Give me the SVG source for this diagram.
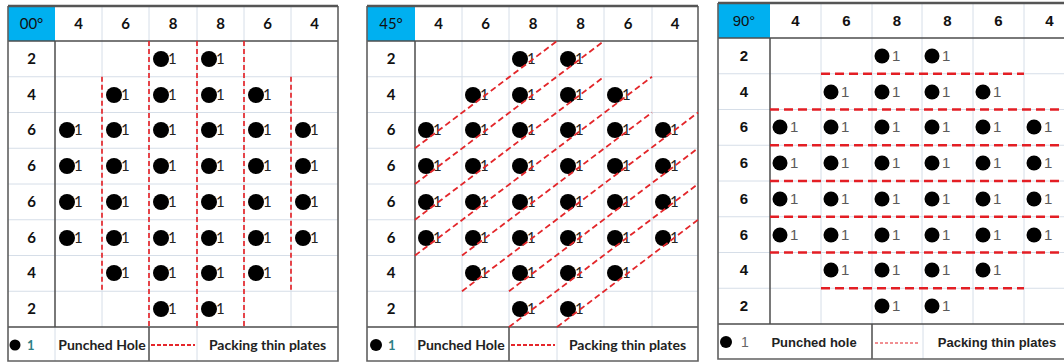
<svg xmlns="http://www.w3.org/2000/svg" width="1064" height="364" viewBox="0 0 1064 364">
<style>
.bg{fill:#fff}
.gl{stroke:#d6dee8;stroke-width:1;fill:none}
.gd{stroke:#4d4d4d;stroke-width:1.5;fill:none}
.bd{stroke:#606060;stroke-width:1.6;fill:none}
.bt{stroke:#555;stroke-width:2.6;fill:none}
.blue{fill:#00b0f0}
.h{font-family:Lato,"Open Sans",sans-serif;font-weight:700;font-size:15px;text-anchor:middle;fill:#111}
.h3{font-family:"Liberation Sans",Arial,sans-serif;font-weight:700;font-size:15px;text-anchor:middle;fill:#111}
.deg{font-weight:400}
.hole circle{fill:#000}
.p12 .hole text{font-family:Lato,"Open Sans",sans-serif;font-size:15px;fill:#222}
.p3 .hole text{font-family:"Liberation Sans",Arial,sans-serif;font-size:15px;fill:#5a5a5a}
.lg{font-family:Lato,"Open Sans",sans-serif;font-weight:700;font-size:14px;text-anchor:middle;fill:#222}
.lg3{font-family:"Liberation Sans",Arial,sans-serif;font-weight:700;font-size:13px;text-anchor:middle;fill:#222}
.d1{stroke:#e5262b;stroke-width:1.7;stroke-dasharray:5 3;fill:none}
.d2{stroke:#e3262a;stroke-width:1.8;stroke-dasharray:6 3.5;fill:none}
.d3{stroke:#e31e24;stroke-width:2.6;stroke-dasharray:9 5;fill:none}
.dl{stroke:#e5262b;stroke-width:2;stroke-dasharray:4 2;fill:none}
.dl3{stroke:#e31e24;stroke-width:1;stroke-dasharray:3 2;fill:none}
</style>
<rect class="bg" x="0" y="0" width="1064" height="364"/>

<!-- ================= PANEL 1 ================= -->
<g id="panel1" class="p12">
  <rect class="blue" x="8" y="6" width="47" height="35"/>
  <g id="p1-grid">
    <path class="gl" d="M102,6V327M149,6V327M197,6V361M244,6V327M291,6V327M55,327V361"/>
    <path class="gl" d="M8,76.75H338M8,112.5H338M8,148.25H338M8,184H338M8,219.75H338M8,255.5H338M8,291.25H338"/>
    <path class="gd" d="M8,41H338M55,41V327M8,327H338M149,327V361"/>
    <path class="bd" d="M8,6V361H338V6"/>
    <path class="bt" d="M8,6H338"/>
  </g>
  <g id="p1-header">
    <text class="h deg" x="31.5" y="29">00°</text>
    <text class="h" x="78.5" y="29">4</text>
    <text class="h" x="125.5" y="29">6</text>
    <text class="h" x="173" y="29">8</text>
    <text class="h" x="220.5" y="29">8</text>
    <text class="h" x="267.5" y="29">6</text>
    <text class="h" x="314.5" y="29">4</text>
  </g>
  <g id="p1-rowlabels">
    <text class="h" x="31.5" y="64">2</text>
    <text class="h" x="31.5" y="100">4</text>
    <text class="h" x="31.5" y="135">6</text>
    <text class="h" x="31.5" y="171">6</text>
    <text class="h" x="31.5" y="207">6</text>
    <text class="h" x="31.5" y="243">6</text>
    <text class="h" x="31.5" y="278">4</text>
    <text class="h" x="31.5" y="314">2</text>
  </g>
  <g id="p1-holes">
    <g id="p1-r0c2" class="hole" transform="translate(161,59)"><circle r="8"/><text x="7" y="5">1</text></g>
    <g id="p1-r0c3" class="hole" transform="translate(209,59)"><circle r="8"/><text x="7" y="5">1</text></g>
    <g id="p1-r1c1" class="hole" transform="translate(114,95)"><circle r="8"/><text x="7" y="5">1</text></g>
    <g id="p1-r1c2" class="hole" transform="translate(161,95)"><circle r="8"/><text x="7" y="5">1</text></g>
    <g id="p1-r1c3" class="hole" transform="translate(209,95)"><circle r="8"/><text x="7" y="5">1</text></g>
    <g id="p1-r1c4" class="hole" transform="translate(256,95)"><circle r="8"/><text x="7" y="5">1</text></g>
    <g id="p1-r2c0" class="hole" transform="translate(67,130)"><circle r="8"/><text x="7" y="5">1</text></g>
    <g id="p1-r2c1" class="hole" transform="translate(114,130)"><circle r="8"/><text x="7" y="5">1</text></g>
    <g id="p1-r2c2" class="hole" transform="translate(161,130)"><circle r="8"/><text x="7" y="5">1</text></g>
    <g id="p1-r2c3" class="hole" transform="translate(209,130)"><circle r="8"/><text x="7" y="5">1</text></g>
    <g id="p1-r2c4" class="hole" transform="translate(256,130)"><circle r="8"/><text x="7" y="5">1</text></g>
    <g id="p1-r2c5" class="hole" transform="translate(303,130)"><circle r="8"/><text x="7" y="5">1</text></g>
    <g id="p1-r3c0" class="hole" transform="translate(67,166)"><circle r="8"/><text x="7" y="5">1</text></g>
    <g id="p1-r3c1" class="hole" transform="translate(114,166)"><circle r="8"/><text x="7" y="5">1</text></g>
    <g id="p1-r3c2" class="hole" transform="translate(161,166)"><circle r="8"/><text x="7" y="5">1</text></g>
    <g id="p1-r3c3" class="hole" transform="translate(209,166)"><circle r="8"/><text x="7" y="5">1</text></g>
    <g id="p1-r3c4" class="hole" transform="translate(256,166)"><circle r="8"/><text x="7" y="5">1</text></g>
    <g id="p1-r3c5" class="hole" transform="translate(303,166)"><circle r="8"/><text x="7" y="5">1</text></g>
    <g id="p1-r4c0" class="hole" transform="translate(67,202)"><circle r="8"/><text x="7" y="5">1</text></g>
    <g id="p1-r4c1" class="hole" transform="translate(114,202)"><circle r="8"/><text x="7" y="5">1</text></g>
    <g id="p1-r4c2" class="hole" transform="translate(161,202)"><circle r="8"/><text x="7" y="5">1</text></g>
    <g id="p1-r4c3" class="hole" transform="translate(209,202)"><circle r="8"/><text x="7" y="5">1</text></g>
    <g id="p1-r4c4" class="hole" transform="translate(256,202)"><circle r="8"/><text x="7" y="5">1</text></g>
    <g id="p1-r4c5" class="hole" transform="translate(303,202)"><circle r="8"/><text x="7" y="5">1</text></g>
    <g id="p1-r5c0" class="hole" transform="translate(67,238)"><circle r="8"/><text x="7" y="5">1</text></g>
    <g id="p1-r5c1" class="hole" transform="translate(114,238)"><circle r="8"/><text x="7" y="5">1</text></g>
    <g id="p1-r5c2" class="hole" transform="translate(161,238)"><circle r="8"/><text x="7" y="5">1</text></g>
    <g id="p1-r5c3" class="hole" transform="translate(209,238)"><circle r="8"/><text x="7" y="5">1</text></g>
    <g id="p1-r5c4" class="hole" transform="translate(256,238)"><circle r="8"/><text x="7" y="5">1</text></g>
    <g id="p1-r5c5" class="hole" transform="translate(303,238)"><circle r="8"/><text x="7" y="5">1</text></g>
    <g id="p1-r6c1" class="hole" transform="translate(114,273)"><circle r="8"/><text x="7" y="5">1</text></g>
    <g id="p1-r6c2" class="hole" transform="translate(161,273)"><circle r="8"/><text x="7" y="5">1</text></g>
    <g id="p1-r6c3" class="hole" transform="translate(209,273)"><circle r="8"/><text x="7" y="5">1</text></g>
    <g id="p1-r6c4" class="hole" transform="translate(256,273)"><circle r="8"/><text x="7" y="5">1</text></g>
    <g id="p1-r7c2" class="hole" transform="translate(161,309)"><circle r="8"/><text x="7" y="5">1</text></g>
    <g id="p1-r7c3" class="hole" transform="translate(209,309)"><circle r="8"/><text x="7" y="5">1</text></g>
  </g>
  <g id="p1-legend">
    <circle cx="15" cy="345" r="5.5" fill="#000"/>
    <text x="27" y="350" font-family="Lato,'Open Sans',sans-serif" font-size="13" font-weight="700" fill="#2e7f86">1</text>
    <text class="lg" x="102" y="350">Punched Hole</text>
    <line class="dl" x1="151" y1="345" x2="195" y2="345"/>
    <text class="lg" x="267.5" y="350">Packing thin plates</text>
  </g>
</g>

<!-- ================= PANEL 2 ================= -->
<g id="panel2" class="p12">
  <rect class="blue" x="367" y="6" width="48" height="35"/>
  <g id="p2-grid">
    <path class="gl" d="M462,6V327M509,6V327M557,6V361M604,6V327M652,6V327M415,327V361"/>
    <path class="gl" d="M367,76.75H698M367,112.5H698M367,148.25H698M367,184H698M367,219.75H698M367,255.5H698M367,291.25H698"/>
    <path class="gd" d="M367,41H698M415,41V327M367,327H698M509,327V361"/>
    <path class="bd" d="M367,6V361H698V6"/>
    <path class="bt" d="M367,6H698"/>
  </g>
  <g id="p2-header">
    <text class="h deg" x="391" y="29">45°</text>
    <text class="h" x="438.5" y="29">4</text>
    <text class="h" x="485.5" y="29">6</text>
    <text class="h" x="533" y="29">8</text>
    <text class="h" x="580.5" y="29">8</text>
    <text class="h" x="628" y="29">6</text>
    <text class="h" x="675" y="29">4</text>
  </g>
  <g id="p2-rowlabels">
    <text class="h" x="391" y="64">2</text>
    <text class="h" x="391" y="100">4</text>
    <text class="h" x="391" y="135">6</text>
    <text class="h" x="391" y="171">6</text>
    <text class="h" x="391" y="207">6</text>
    <text class="h" x="391" y="243">6</text>
    <text class="h" x="391" y="278">4</text>
    <text class="h" x="391" y="314">2</text>
  </g>
  <g id="p2-holes">
    <g id="p2-r0c2" class="hole" transform="translate(520,59)"><circle r="8"/><text x="7" y="5">1</text></g>
    <g id="p2-r0c3" class="hole" transform="translate(568,59)"><circle r="8"/><text x="7" y="5">1</text></g>
    <g id="p2-r1c1" class="hole" transform="translate(473,95)"><circle r="8"/><text x="7" y="5">1</text></g>
    <g id="p2-r1c2" class="hole" transform="translate(520,95)"><circle r="8"/><text x="7" y="5">1</text></g>
    <g id="p2-r1c3" class="hole" transform="translate(568,95)"><circle r="8"/><text x="7" y="5">1</text></g>
    <g id="p2-r1c4" class="hole" transform="translate(615,95)"><circle r="8"/><text x="7" y="5">1</text></g>
    <g id="p2-r2c0" class="hole" transform="translate(426,130)"><circle r="8"/><text x="7" y="5">1</text></g>
    <g id="p2-r2c1" class="hole" transform="translate(473,130)"><circle r="8"/><text x="7" y="5">1</text></g>
    <g id="p2-r2c2" class="hole" transform="translate(520,130)"><circle r="8"/><text x="7" y="5">1</text></g>
    <g id="p2-r2c3" class="hole" transform="translate(568,130)"><circle r="8"/><text x="7" y="5">1</text></g>
    <g id="p2-r2c4" class="hole" transform="translate(615,130)"><circle r="8"/><text x="7" y="5">1</text></g>
    <g id="p2-r2c5" class="hole" transform="translate(663,130)"><circle r="8"/><text x="7" y="5">1</text></g>
    <g id="p2-r3c0" class="hole" transform="translate(426,166)"><circle r="8"/><text x="7" y="5">1</text></g>
    <g id="p2-r3c1" class="hole" transform="translate(473,166)"><circle r="8"/><text x="7" y="5">1</text></g>
    <g id="p2-r3c2" class="hole" transform="translate(520,166)"><circle r="8"/><text x="7" y="5">1</text></g>
    <g id="p2-r3c3" class="hole" transform="translate(568,166)"><circle r="8"/><text x="7" y="5">1</text></g>
    <g id="p2-r3c4" class="hole" transform="translate(615,166)"><circle r="8"/><text x="7" y="5">1</text></g>
    <g id="p2-r3c5" class="hole" transform="translate(663,166)"><circle r="8"/><text x="7" y="5">1</text></g>
    <g id="p2-r4c0" class="hole" transform="translate(426,202)"><circle r="8"/><text x="7" y="5">1</text></g>
    <g id="p2-r4c1" class="hole" transform="translate(473,202)"><circle r="8"/><text x="7" y="5">1</text></g>
    <g id="p2-r4c2" class="hole" transform="translate(520,202)"><circle r="8"/><text x="7" y="5">1</text></g>
    <g id="p2-r4c3" class="hole" transform="translate(568,202)"><circle r="8"/><text x="7" y="5">1</text></g>
    <g id="p2-r4c4" class="hole" transform="translate(615,202)"><circle r="8"/><text x="7" y="5">1</text></g>
    <g id="p2-r4c5" class="hole" transform="translate(663,202)"><circle r="8"/><text x="7" y="5">1</text></g>
    <g id="p2-r5c0" class="hole" transform="translate(426,238)"><circle r="8"/><text x="7" y="5">1</text></g>
    <g id="p2-r5c1" class="hole" transform="translate(473,238)"><circle r="8"/><text x="7" y="5">1</text></g>
    <g id="p2-r5c2" class="hole" transform="translate(520,238)"><circle r="8"/><text x="7" y="5">1</text></g>
    <g id="p2-r5c3" class="hole" transform="translate(568,238)"><circle r="8"/><text x="7" y="5">1</text></g>
    <g id="p2-r5c4" class="hole" transform="translate(615,238)"><circle r="8"/><text x="7" y="5">1</text></g>
    <g id="p2-r5c5" class="hole" transform="translate(663,238)"><circle r="8"/><text x="7" y="5">1</text></g>
    <g id="p2-r6c1" class="hole" transform="translate(473,273)"><circle r="8"/><text x="7" y="5">1</text></g>
    <g id="p2-r6c2" class="hole" transform="translate(520,273)"><circle r="8"/><text x="7" y="5">1</text></g>
    <g id="p2-r6c3" class="hole" transform="translate(568,273)"><circle r="8"/><text x="7" y="5">1</text></g>
    <g id="p2-r6c4" class="hole" transform="translate(615,273)"><circle r="8"/><text x="7" y="5">1</text></g>
    <g id="p2-r7c2" class="hole" transform="translate(520,309)"><circle r="8"/><text x="7" y="5">1</text></g>
    <g id="p2-r7c3" class="hole" transform="translate(568,309)"><circle r="8"/><text x="7" y="5">1</text></g>
  </g>
  <g id="p2-legend">
    <circle cx="376" cy="345" r="6" fill="#000"/>
    <text x="388" y="350" font-family="Lato,'Open Sans',sans-serif" font-size="13" font-weight="700" fill="#2e7f86">1</text>
    <text class="lg" x="461" y="350">Punched Hole</text>
    <line class="dl" x1="511" y1="345" x2="555" y2="345"/>
    <text class="lg" x="627.5" y="350">Packing thin plates</text>
  </g>
</g>

<!-- ================= PANEL 3 ================= -->
<g id="panel3" class="p3">
  <rect class="blue" x="718" y="3" width="52" height="35"/>
  <g id="p3-grid">
    <path class="gl" d="M821,3V324M872,3V324M922,3V324M973,3V324M1024,3V324M923,324V359"/>
    <path class="gl" d="M718,73.75H1064M718,109.5H1064M718,145.25H1064M718,181H1064M718,216.75H1064M718,252.5H1064M718,288.25H1064"/>
    <path class="gd" d="M718,38H1064M770,38V324M718,324H1064M872,324V359"/>
    <path class="bd" d="M718,3V359H1064"/>
    <path class="bt" d="M718,3H1064"/>
  </g>
  <g id="p3-header">
    <text class="h3 deg" x="744" y="26">90°</text>
    <text class="h3" x="795.5" y="26">4</text>
    <text class="h3" x="846.5" y="26">6</text>
    <text class="h3" x="897" y="26">8</text>
    <text class="h3" x="947.5" y="26">8</text>
    <text class="h3" x="998.5" y="26">6</text>
    <text class="h3" x="1049.5" y="26">4</text>
  </g>
  <g id="p3-rowlabels">
    <text class="h3" x="744" y="61">2</text>
    <text class="h3" x="744" y="97">4</text>
    <text class="h3" x="744" y="132">6</text>
    <text class="h3" x="744" y="168">6</text>
    <text class="h3" x="744" y="204">6</text>
    <text class="h3" x="744" y="240">6</text>
    <text class="h3" x="744" y="275">4</text>
    <text class="h3" x="744" y="311">2</text>
  </g>
  <g id="p3-holes">
    <g id="p3-r0c2" class="hole" transform="translate(882,56)"><circle r="7.5"/><text x="10" y="5">1</text></g>
    <g id="p3-r0c3" class="hole" transform="translate(932,56)"><circle r="7.5"/><text x="10" y="5">1</text></g>
    <g id="p3-r1c1" class="hole" transform="translate(831,92)"><circle r="7.5"/><text x="10" y="5">1</text></g>
    <g id="p3-r1c2" class="hole" transform="translate(882,92)"><circle r="7.5"/><text x="10" y="5">1</text></g>
    <g id="p3-r1c3" class="hole" transform="translate(932,92)"><circle r="7.5"/><text x="10" y="5">1</text></g>
    <g id="p3-r1c4" class="hole" transform="translate(983,92)"><circle r="7.5"/><text x="10" y="5">1</text></g>
    <g id="p3-r2c0" class="hole" transform="translate(780,127)"><circle r="7.5"/><text x="10" y="5">1</text></g>
    <g id="p3-r2c1" class="hole" transform="translate(831,127)"><circle r="7.5"/><text x="10" y="5">1</text></g>
    <g id="p3-r2c2" class="hole" transform="translate(882,127)"><circle r="7.5"/><text x="10" y="5">1</text></g>
    <g id="p3-r2c3" class="hole" transform="translate(932,127)"><circle r="7.5"/><text x="10" y="5">1</text></g>
    <g id="p3-r2c4" class="hole" transform="translate(983,127)"><circle r="7.5"/><text x="10" y="5">1</text></g>
    <g id="p3-r2c5" class="hole" transform="translate(1034,127)"><circle r="7.5"/><text x="10" y="5">1</text></g>
    <g id="p3-r3c0" class="hole" transform="translate(780,163)"><circle r="7.5"/><text x="10" y="5">1</text></g>
    <g id="p3-r3c1" class="hole" transform="translate(831,163)"><circle r="7.5"/><text x="10" y="5">1</text></g>
    <g id="p3-r3c2" class="hole" transform="translate(882,163)"><circle r="7.5"/><text x="10" y="5">1</text></g>
    <g id="p3-r3c3" class="hole" transform="translate(932,163)"><circle r="7.5"/><text x="10" y="5">1</text></g>
    <g id="p3-r3c4" class="hole" transform="translate(983,163)"><circle r="7.5"/><text x="10" y="5">1</text></g>
    <g id="p3-r3c5" class="hole" transform="translate(1034,163)"><circle r="7.5"/><text x="10" y="5">1</text></g>
    <g id="p3-r4c0" class="hole" transform="translate(780,199)"><circle r="7.5"/><text x="10" y="5">1</text></g>
    <g id="p3-r4c1" class="hole" transform="translate(831,199)"><circle r="7.5"/><text x="10" y="5">1</text></g>
    <g id="p3-r4c2" class="hole" transform="translate(882,199)"><circle r="7.5"/><text x="10" y="5">1</text></g>
    <g id="p3-r4c3" class="hole" transform="translate(932,199)"><circle r="7.5"/><text x="10" y="5">1</text></g>
    <g id="p3-r4c4" class="hole" transform="translate(983,199)"><circle r="7.5"/><text x="10" y="5">1</text></g>
    <g id="p3-r4c5" class="hole" transform="translate(1034,199)"><circle r="7.5"/><text x="10" y="5">1</text></g>
    <g id="p3-r5c0" class="hole" transform="translate(780,235)"><circle r="7.5"/><text x="10" y="5">1</text></g>
    <g id="p3-r5c1" class="hole" transform="translate(831,235)"><circle r="7.5"/><text x="10" y="5">1</text></g>
    <g id="p3-r5c2" class="hole" transform="translate(882,235)"><circle r="7.5"/><text x="10" y="5">1</text></g>
    <g id="p3-r5c3" class="hole" transform="translate(932,235)"><circle r="7.5"/><text x="10" y="5">1</text></g>
    <g id="p3-r5c4" class="hole" transform="translate(983,235)"><circle r="7.5"/><text x="10" y="5">1</text></g>
    <g id="p3-r5c5" class="hole" transform="translate(1034,235)"><circle r="7.5"/><text x="10" y="5">1</text></g>
    <g id="p3-r6c1" class="hole" transform="translate(831,270)"><circle r="7.5"/><text x="10" y="5">1</text></g>
    <g id="p3-r6c2" class="hole" transform="translate(882,270)"><circle r="7.5"/><text x="10" y="5">1</text></g>
    <g id="p3-r6c3" class="hole" transform="translate(932,270)"><circle r="7.5"/><text x="10" y="5">1</text></g>
    <g id="p3-r6c4" class="hole" transform="translate(983,270)"><circle r="7.5"/><text x="10" y="5">1</text></g>
    <g id="p3-r7c2" class="hole" transform="translate(882,306)"><circle r="7.5"/><text x="10" y="5">1</text></g>
    <g id="p3-r7c3" class="hole" transform="translate(932,306)"><circle r="7.5"/><text x="10" y="5">1</text></g>
  </g>
  <g id="p3-legend">
    <circle cx="726" cy="342" r="6" fill="#000"/>
    <text x="741" y="347" font-family="'Liberation Sans',Arial,sans-serif" font-size="14" fill="#666">1</text>
    <text class="lg3" x="814" y="347">Punched hole</text>
    <line class="dl3" x1="875" y1="343" x2="919" y2="343"/>
    <text class="lg3" x="997" y="347">Packing thin plates</text>
  </g>
</g>

<!-- ================= CONNECTORS (packing plates) ================= -->
<g id="connectors">
  <g id="p1-plates">
    <line class="d1" x1="102" y1="76.75" x2="102" y2="291.25"/>
    <line class="d1" x1="149" y1="41" x2="149" y2="327"/>
    <line class="d1" x1="197" y1="41" x2="197" y2="327"/>
    <line class="d1" x1="244" y1="41" x2="244" y2="327"/>
    <line class="d1" x1="291" y1="76.75" x2="291" y2="291.25"/>
  </g>
  <g id="p2-plates">
    <line class="d2" x1="415" y1="148.25" x2="557" y2="41"/>
    <line class="d2" x1="415" y1="184" x2="604" y2="41"/>
    <line class="d2" x1="415" y1="219.75" x2="604" y2="76.75"/>
    <line class="d2" x1="415" y1="255.5" x2="652" y2="76.75"/>
    <line class="d2" x1="462" y1="255.5" x2="652" y2="112.5"/>
    <line class="d2" x1="462" y1="291.25" x2="698" y2="112.5"/>
    <line class="d2" x1="509" y1="291.25" x2="698" y2="148.25"/>
    <line class="d2" x1="509" y1="327" x2="698" y2="184"/>
    <line class="d2" x1="557" y1="327" x2="698" y2="219.75"/>
  </g>
  <g id="p3-plates">
    <line class="d3" x1="821" y1="73.75" x2="1024" y2="73.75"/>
    <line class="d3" x1="770" y1="109.5" x2="1064" y2="109.5"/>
    <line class="d3" x1="770" y1="145.25" x2="1064" y2="145.25"/>
    <line class="d3" x1="770" y1="181" x2="1064" y2="181"/>
    <line class="d3" x1="770" y1="216.75" x2="1064" y2="216.75"/>
    <line class="d3" x1="770" y1="252.5" x2="1064" y2="252.5"/>
    <line class="d3" x1="821" y1="288.25" x2="1024" y2="288.25"/>
  </g>
</g>
</svg>
